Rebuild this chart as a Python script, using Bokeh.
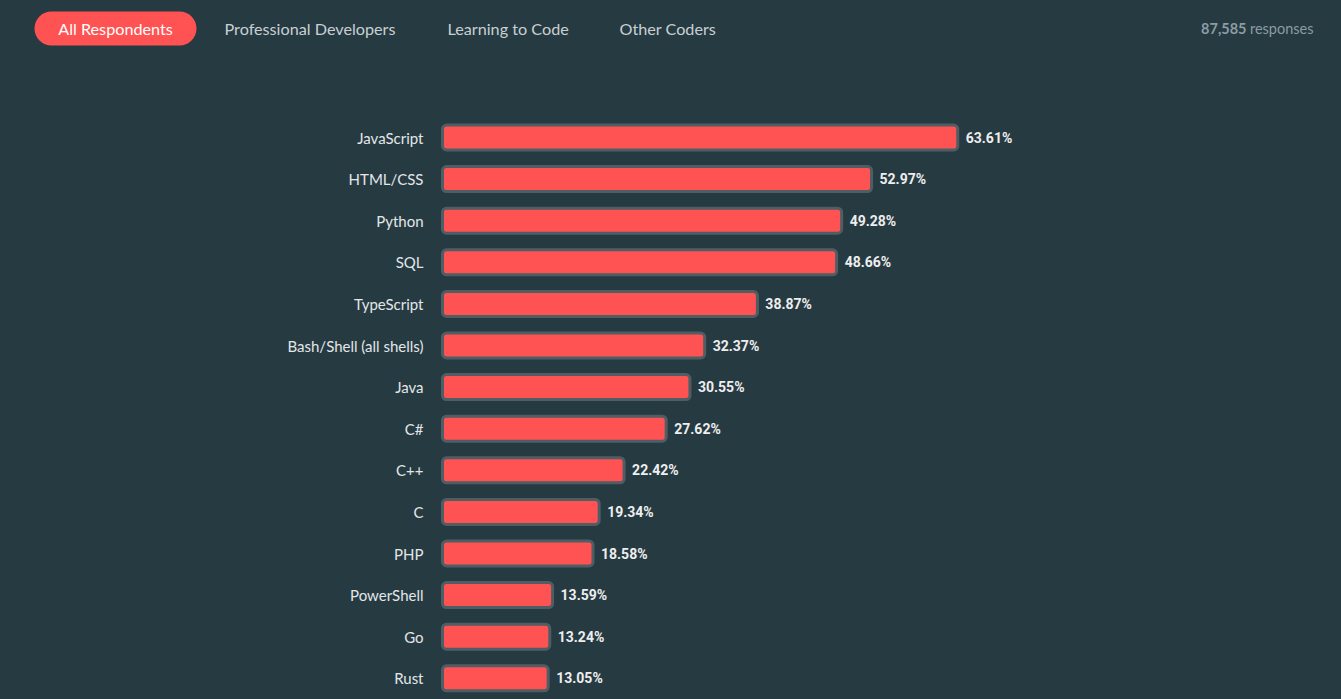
from bokeh.plotting import figure
from bokeh.models import ColumnDataSource, Range1d
from bokeh.layouts import column
from bokeh.core.properties import value
from bokeh.embed import file_html
from bokeh.resources import INLINE

languages = ["JavaScript", "HTML/CSS", "Python", "SQL", "TypeScript",
             "Bash/Shell (all shells)", "Java", "C#", "C++", "C", "PHP",
             "PowerShell", "Go", "Rust"]
shares = [63.61, 52.97, 49.28, 48.66, 38.87, 32.37, 30.55, 27.62, 22.42,
          19.34, 18.58, 13.59, 13.24, 13.05]
tabs = ["All Respondents", "Professional Developers", "Learning to Code", "Other Coders"]
responses = "87,585"

BG = "#263a42"
RED = "#ff5252"
FONT = "Lato"

W = 1341
HH = 80
CH = 619

# ---------- header ----------
h = figure(width=W, height=HH, x_range=Range1d(0, W), y_range=Range1d(HH, 0),
           x_axis_location=None, y_axis_location=None, toolbar_location=None,
           output_backend="svg", min_border=0)
h.grid.visible = False
h.outline_line_color = None
h.background_fill_color = BG
h.border_fill_color = BG

h.quad(left=[34], right=[196], top=[11], bottom=[45], border_radius=17,
       fill_color=RED, line_color=None)
h.text(x=[115], y=[28], text=[tabs[0]], text_align="center", text_baseline="middle",
       text_font=value(FONT), text_font_size="16.2px", text_color="#ffffff")
h.text(x=[224, 447, 619], y=[28, 28, 28], text=tabs[1:], text_align="left",
       text_baseline="middle", text_font=value(FONT), text_font_size="16.2px",
       text_color="#c9d0d3")
h.text(x=[1313], y=[28], text=["responses"], text_align="right", text_baseline="middle",
       text_font=value(FONT), text_font_size="14.5px", text_color="#8c9ca2")
h.text(x=[1246], y=[28], text=[responses], text_align="right", text_baseline="middle",
       text_font=value(FONT), text_font_style="bold", text_font_size="14.5px",
       text_color="#8c9ca2")

# ---------- chart ----------
ROW = 41.6
FIRST = 137 - HH
ZERO = 442
PX = 8.1
x0 = -ZERO / PX
p = figure(width=W, height=CH,
           x_range=Range1d(x0, x0 + W / PX),
           y_range=Range1d((CH - FIRST) / ROW, -FIRST / ROW),
           x_axis_location=None, y_axis_location=None, toolbar_location=None,
           output_backend="svg", min_border=0)
p.grid.visible = False
p.outline_line_color = None
p.background_fill_color = BG
p.border_fill_color = BG

src = ColumnDataSource(dict(y=list(range(len(languages))), v=shares, cat=languages,
                            zero=[0] * len(languages),
                            lbl=[f"{s:.2f}%" for s in shares]))
p.hbar(y="y", left=0, right="v", height=0.6, source=src, fill_color=RED,
       line_color="#4f5e64", line_width=3, border_radius=4)
p.text(x="v", y="y", text="lbl", source=src, x_offset=8, text_baseline="middle",
       text_font=value("Roboto"), text_font_style="bold", text_font_size="14px",
       text_color="#eeeeee")
p.text(x="zero", y="y", text="cat", source=src, x_offset=-19, text_align="right",
       text_baseline="middle", text_font=value(FONT), text_font_size="15px",
       text_color="#e3e6e8")

layout = column(h, p, spacing=0)
html = file_html(layout, INLINE)
html = html.replace("<head>", "<head><style>html,body{background:%s;margin:0;overflow:hidden;}</style>" % BG, 1)
open("out.html", "w").write(html)
